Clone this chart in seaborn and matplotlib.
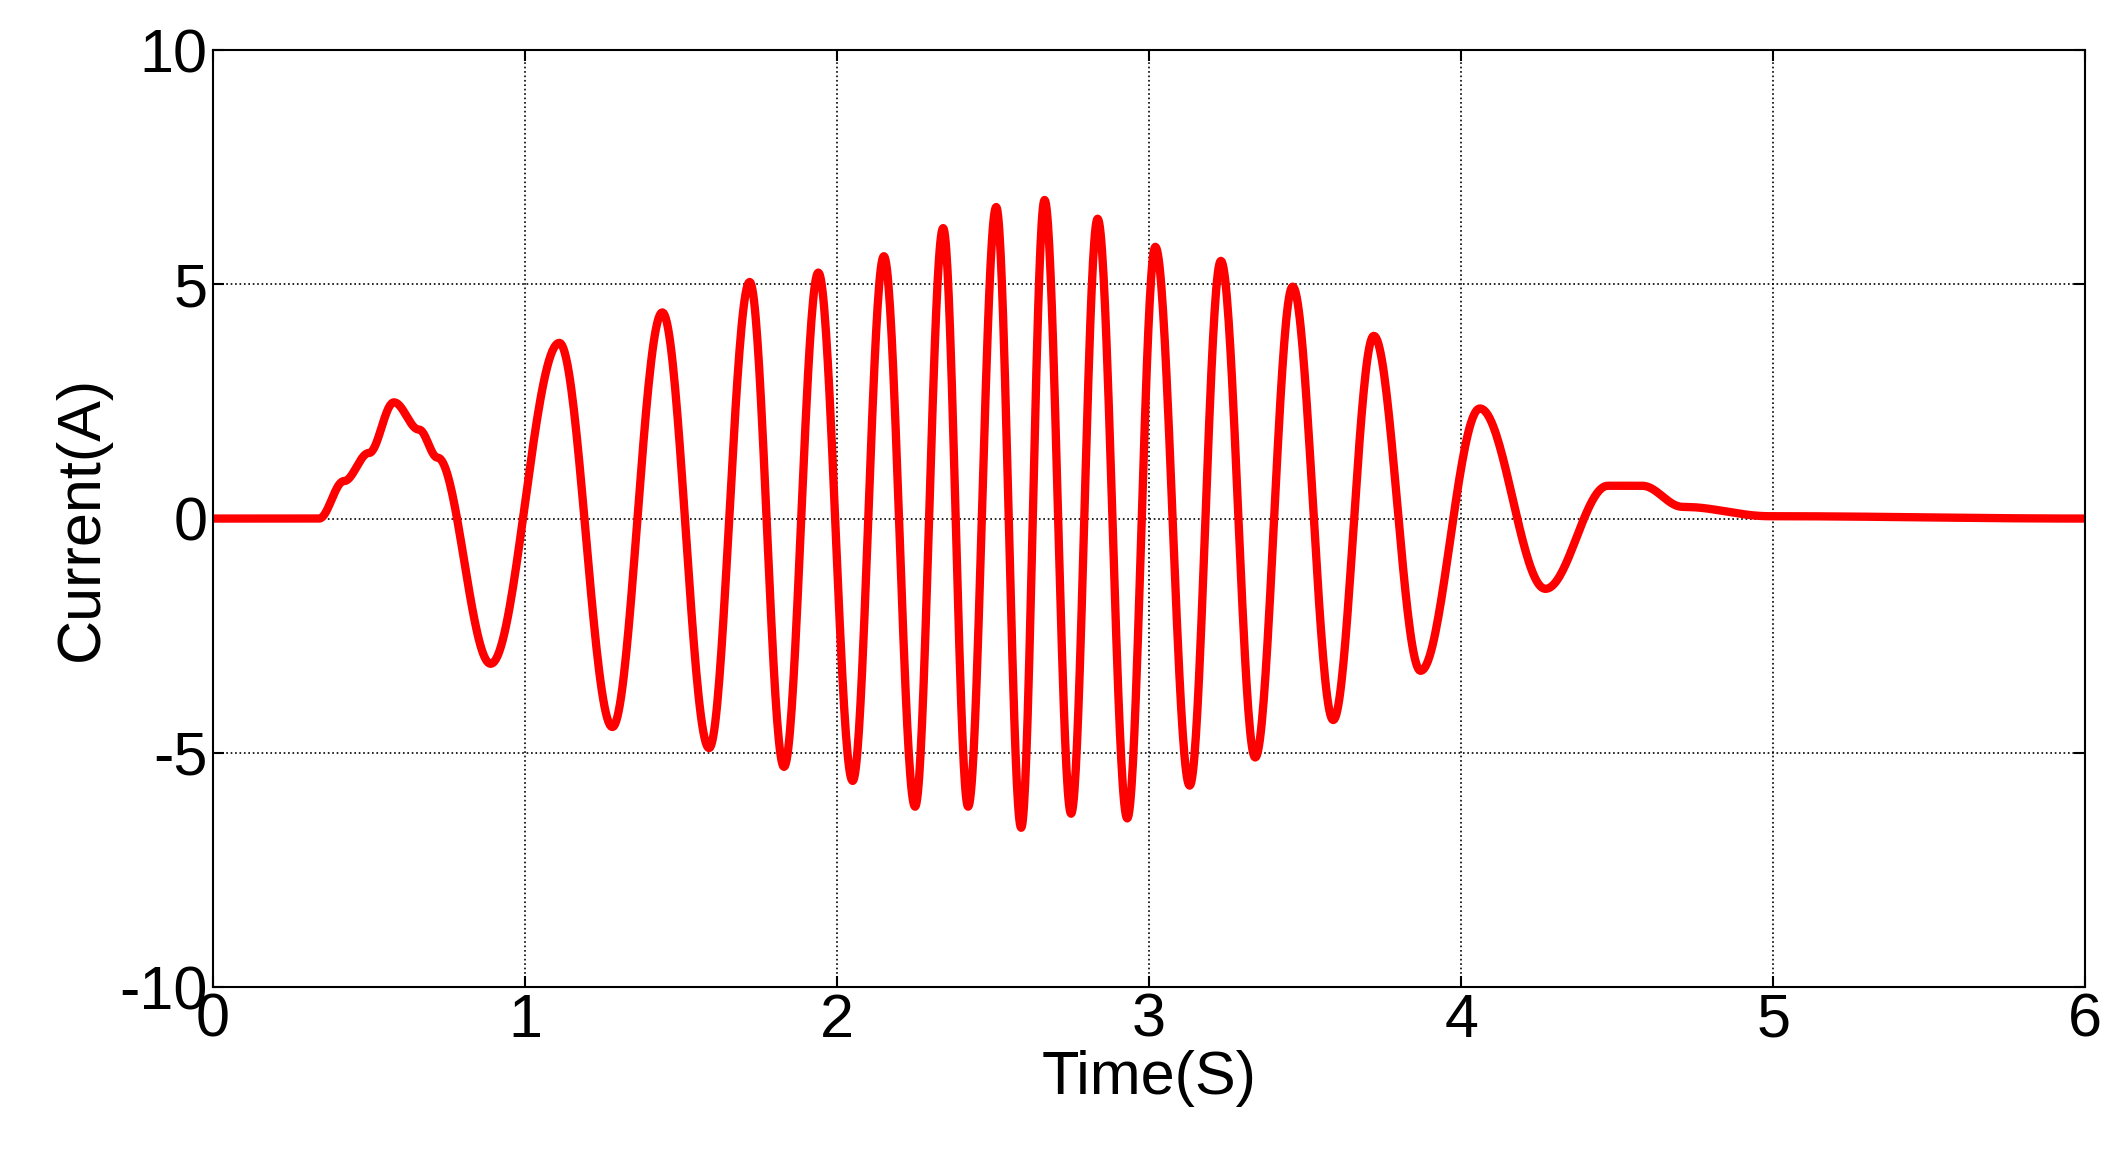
import numpy as np
import matplotlib
matplotlib.use("Agg")
import matplotlib.pyplot as plt
import seaborn as sns
import pandas as pd

sns.set_theme(style="white")
plt.rcParams['font.family'] = ['Liberation Sans', 'DejaVu Sans']
plt.rcParams['axes.unicode_minus'] = False

# key points (time, current): start, extrema, end
t_key = [0.0, 0.34, 0.42, 0.50, 0.58, 0.66, 0.72, 0.89, 1.11, 1.28, 1.44, 1.59, 1.72, 1.83,
         1.94, 2.05, 2.15, 2.25, 2.34, 2.42, 2.51, 2.59, 2.665, 2.75, 2.835, 2.93,
         3.02, 3.13, 3.23, 3.34, 3.46, 3.59, 3.72, 3.87, 4.06, 4.27, 4.47, 4.58,
         4.71, 4.99, 6.0]
i_key = [0.0, 0.0, 0.8, 1.4, 2.48, 1.9, 1.3, -3.1, 3.75, -4.45, 4.4, -4.9, 5.05, -5.3,
         5.25, -5.6, 5.6, -6.15, 6.2, -6.15, 6.65, -6.6, 6.8, -6.3, 6.4, -6.4,
         5.8, -5.7, 5.5, -5.1, 4.95, -4.3, 3.9, -3.25, 2.35, -1.5, 0.7, 0.7,
         0.25, 0.05, 0.0]

# smooth rendering between key points (half-cosine easing)
ts, vs = [], []
for k in range(len(t_key) - 1):
    s = np.linspace(0, 1, 40, endpoint=False)
    w = (1 - np.cos(np.pi * s)) / 2
    ts.extend(t_key[k] + (t_key[k + 1] - t_key[k]) * s)
    vs.extend(i_key[k] + (i_key[k + 1] - i_key[k]) * w)
ts.append(t_key[-1]); vs.append(i_key[-1])
df = pd.DataFrame({"t": ts, "i": vs})

fig = plt.figure(figsize=(21.17, 11.64), dpi=100)
ax = fig.add_axes([0.1006, 0.152, 0.8844, 0.805])
sns.lineplot(data=df, x="t", y="i", ax=ax, color="#ff0000", linewidth=6, sort=False)
ax.set_xlim(0, 6)
ax.set_ylim(-10, 10)
ax.set_xticks(range(0, 7))
ax.set_yticks([-10, -5, 0, 5, 10])
ax.grid(True, color="black", linestyle=":", linewidth=1.2)
for s in ax.spines.values():
    s.set_color("black"); s.set_linewidth(1.5)
ax.tick_params(labelsize=44, colors="black", direction="in", length=8, width=1.5,
               top=True, right=True, bottom=True, left=True, pad=4)
ax.set_xlabel("Time(S)", fontsize=44, labelpad=0, color="black")
ax.set_ylabel("Current(A)", fontsize=44, labelpad=6, color="black")
fig.savefig("out.png", dpi=100, facecolor="white")
